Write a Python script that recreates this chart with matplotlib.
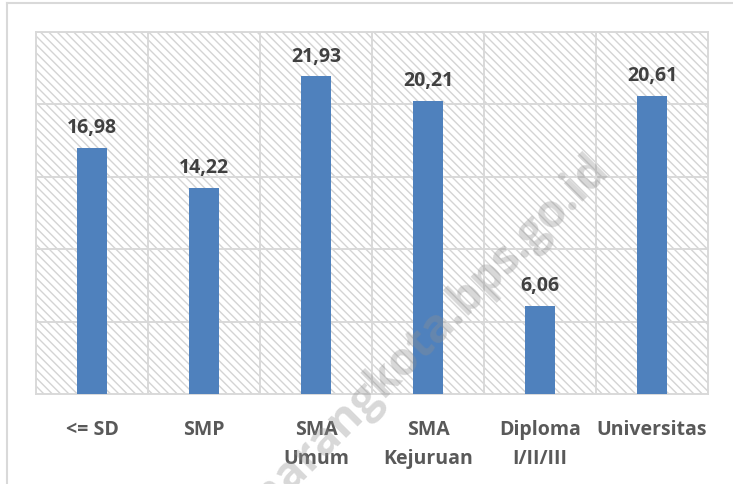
import matplotlib
matplotlib.use('Agg')
import matplotlib.pyplot as plt
from matplotlib.patches import Rectangle
from matplotlib.lines import Line2D

# datos del grafico
kategori = ['<= SD', 'SMP', 'SMA\nUmum', 'SMA\nKejuruan', 'Diploma\nI/II/III', 'Universitas']
persen = [16.98, 14.22, 21.93, 20.21, 6.06, 20.61]
label_persen = ['16,98', '14,22', '21,93', '20,21', '6,06', '20,61']

plt.rcParams['font.family'] = ['Open Sans', 'DejaVu Sans']
plt.rcParams['hatch.color'] = '#d4d4d4'
plt.rcParams['hatch.linewidth'] = 1.0

fig = plt.figure(figsize=(7.33, 4.85), dpi=100)
ax = fig.add_axes([36/733, 1 - 395/485, 672/733, 362/485])

# fondo rayado
ax.add_patch(Rectangle((0, 0), 1, 1, transform=ax.transAxes, facecolor='white',
                       edgecolor='#d4d4d4', hatch='\\\\\\\\', lw=0, zorder=0))

x = range(len(kategori))
ax.bar(x, persen, width=0.27, color='#4f81bd', zorder=3)
for i, v in enumerate(persen):
    ax.text(i, v + 0.75, label_persen[i], ha='center', va='bottom', fontsize=14,
            fontweight='bold', color='#404040', zorder=4)

ax.set_xlim(-0.5, len(kategori) - 0.5)
ax.set_ylim(0, 25)
ax.set_yticks([5, 10, 15, 20, 25])
ax.set_yticklabels([])
ax.set_xticks(list(x))
ax.set_xticklabels(kategori, fontsize=14, fontweight='bold', color='#595959', linespacing=1.6)
ax.set_xticks([i + 0.5 for i in range(len(kategori) - 1)], minor=True)
ax.tick_params(axis='both', which='both', length=0)
ax.tick_params(axis='x', pad=18)
ax.grid(axis='y', color='#d9d9d9', lw=1.4, zorder=1)
ax.grid(axis='x', which='minor', color='#d9d9d9', lw=1.4, zorder=1)
for s in ax.spines.values():
    s.set_color('#d9d9d9')
    s.set_linewidth(1.4)

# marco exterior
fig.add_artist(Line2D([7/733, 7/733], [0, 1 - 4/485], color='#d9d9d9', lw=1.5))
fig.add_artist(Line2D([7/733, 1], [1 - 4/485, 1 - 4/485], color='#d9d9d9', lw=1.5))

# marca de agua
fig.text(610/733, 1 - 172/485, 'semarangkota.bps.go.id', rotation=45, rotation_mode='anchor',
         ha='right', va='baseline', fontsize=33, fontweight='bold', color='#909090', alpha=0.35,
         zorder=10)

fig.savefig('out.png', dpi=100)
